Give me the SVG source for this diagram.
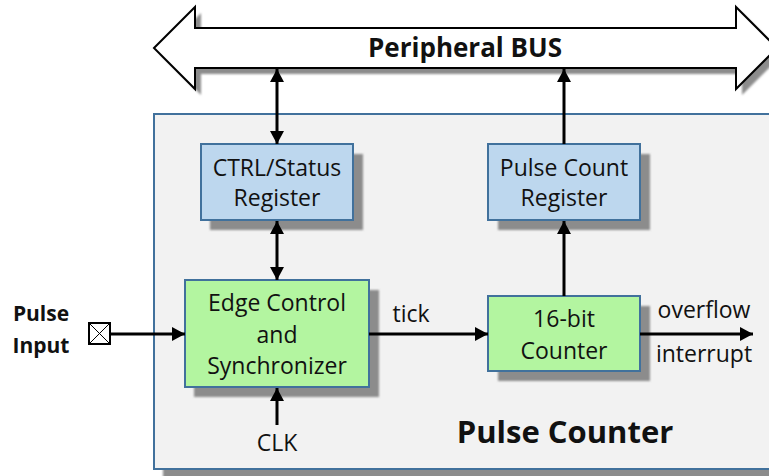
<svg xmlns="http://www.w3.org/2000/svg" width="769" height="476" viewBox="0 0 769 476">
<style>
text{font-family:"Open Sans","Liberation Sans",sans-serif;fill:#111;}
.lbl{font-size:23px;text-anchor:middle;}
.bold{font-weight:bold;}
.shadow{fill:#8c8c8c;filter:url(#blur);}
.reg{fill:#bdd7ee;stroke:#41719c;stroke-width:2;}
.logic{fill:#b3f5a0;stroke:#41719c;stroke-width:2;}
.wire{stroke:#000;stroke-width:3;fill:none;}
</style>
<defs>
<filter id="blur" x="-10%" y="-10%" width="120%" height="120%"><feGaussianBlur stdDeviation="1"/></filter>
<marker id="ah" markerUnits="userSpaceOnUse" markerWidth="14" markerHeight="14" viewBox="0 0 14 14" refX="13" refY="7" orient="auto-start-reverse">
<path d="M0,0 L13,7 L0,14 z" fill="#000"/>
</marker>
</defs>
<rect width="769" height="476" fill="#fff"/>

<g id="bus">
<polygon class="shadow" transform="translate(6,6)" points="154,48 195,7 195,28 736,28 736,7 777,48 736,89 736,68 195,68 195,89"/>
<polygon points="154,48 195,7 195,28 736,28 736,7 777,48 736,89 736,68 195,68 195,89" fill="#fff" stroke="#000" stroke-width="2"/>
<text x="465" y="57" class="lbl bold" style="font-size:26px">Peripheral BUS</text>
</g>

<g id="pulse-counter">
<rect class="shadow" x="163" y="123" width="620" height="360"/>
<rect x="154" y="114" width="630" height="355" fill="#f2f2f2" stroke="#41719c" stroke-width="2"/>
<text x="565" y="443" class="bold" style="font-size:31px;text-anchor:middle">Pulse Counter</text>
</g>

<g id="ctrl-status">
<rect class="shadow" x="210" y="154" width="153" height="76"/>
<rect class="reg" x="201" y="144" width="152" height="76"/>
<text x="277" y="176" class="lbl">CTRL/Status</text>
<text x="277" y="206" class="lbl">Register</text>
</g>

<g id="pulse-count-register">
<rect class="shadow" x="498" y="154" width="152" height="76"/>
<rect class="reg" x="488" y="144" width="152" height="76"/>
<text x="564" y="176" class="lbl">Pulse Count</text>
<text x="564" y="206" class="lbl">Register</text>
</g>

<g id="edge-control">
<rect class="shadow" x="194" y="290" width="185" height="107"/>
<rect class="logic" x="185" y="280" width="184" height="107"/>
<text x="277" y="311" class="lbl">Edge Control</text>
<text x="277" y="343" class="lbl">and</text>
<text x="277" y="374" class="lbl">Synchronizer</text>
</g>

<g id="counter16">
<rect class="shadow" x="498" y="306" width="152" height="75"/>
<rect class="logic" x="488" y="296" width="152" height="75"/>
<text x="564" y="327" class="lbl">16-bit</text>
<text x="564" y="359" class="lbl">Counter</text>
</g>

<g id="pulse-input">
<text x="41" y="321" class="lbl bold" style="font-size:21px">Pulse</text>
<text x="41" y="353" class="lbl bold" style="font-size:21px">Input</text>
<rect x="89" y="323" width="21" height="21" fill="#fff" stroke="#000" stroke-width="2"/>
<path d="M89,323 L110,344 M110,323 L89,344" stroke="#000" stroke-width="1"/>
</g>

<g id="connectors">
<line class="wire" x1="277" y1="69" x2="277" y2="144" marker-start="url(#ah)" marker-end="url(#ah)"/>
<line class="wire" x1="564" y1="144" x2="564" y2="69" marker-end="url(#ah)"/>
<line class="wire" x1="277" y1="221" x2="277" y2="280" marker-start="url(#ah)" marker-end="url(#ah)"/>
<line class="wire" x1="564" y1="296" x2="564" y2="221" marker-end="url(#ah)"/>
<line class="wire" x1="110" y1="334" x2="185" y2="334" marker-end="url(#ah)"/>
<line class="wire" x1="369" y1="334" x2="488" y2="334" marker-end="url(#ah)"/>
<line class="wire" x1="640" y1="334" x2="753" y2="334" marker-end="url(#ah)"/>
<line class="wire" x1="277" y1="425" x2="277" y2="388" marker-end="url(#ah)"/>
<text x="411" y="322" class="lbl">tick</text>
<text x="704" y="318" class="lbl">overflow</text>
<text x="704" y="362" class="lbl">interrupt</text>
<text x="277" y="451" class="lbl">CLK</text>
</g>
</svg>
